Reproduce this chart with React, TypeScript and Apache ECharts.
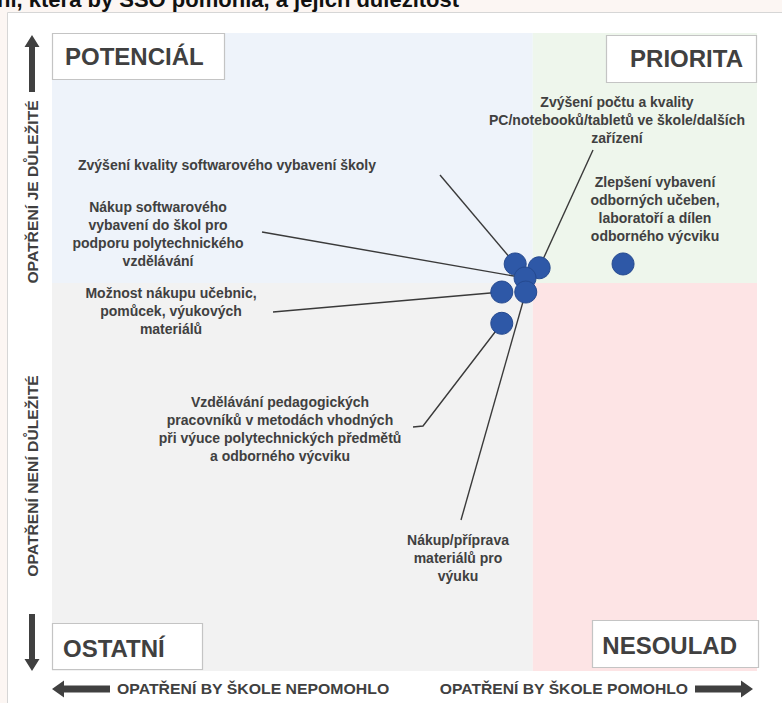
import React, { useEffect, useRef } from "react";
import * as echarts from "echarts";

// ---------- data ----------
const titleText = "ní, která by ŠŠO pomohla, a jejich důležitost";

const measures = [
  "Zvýšení počtu a kvality PC/notebooků/tabletů ve škole/dalších zařízení",
  "Zlepšení vybavení odborných učeben, laboratoří a dílen odborného výcviku",
  "Zvýšení kvality softwarového vybavení školy",
  "Nákup softwarového vybavení do škol pro podporu polytechnického vzdělávání",
  "Možnost nákupu učebnic, pomůcek, výukových materiálů",
  "Vzdělávání pedagogických pracovníků v metodách vhodných při výuce polytechnických předmětů a odborného výcviku",
  "Nákup/příprava materiálů pro výuku",
];

const measureLines = [
  ["Zvýšení počtu a kvality", "PC/notebooků/tabletů ve škole/dalších", "zařízení"],
  ["Zlepšení vybavení", "odborných učeben,", "laboratoří a dílen", "odborného výcviku"],
  ["Zvýšení kvality softwarového vybavení školy"],
  ["Nákup softwarového", "vybavení do škol pro", "podporu polytechnického", "vzdělávání"],
  ["Možnost nákupu učebnic,", "pomůcek, výukových", "materiálů"],
  ["Vzdělávání pedagogických", "pracovníků v metodách vhodných", "při výuce polytechnických předmětů", "a odborného výcviku"],
  ["Nákup/příprava", "materiálů pro", "výuku"],
];

// x: how much the measure would help the school, y: importance
const helpfulness = [69.1, 81.0, 65.7, 67.1, 63.8, 63.8, 67.2];
const importance = [63.2, 63.8, 63.8, 61.6, 59.4, 54.5, 59.4];

const X_MIN = 0;
const X_MAX = 100;
const Y_MIN = 0;
const Y_MAX = 100;
const X_SPLIT = 68.2;
const Y_SPLIT = 60.8;

const quadrantNames = ["POTENCIÁL", "PRIORITA", "OSTATNÍ", "NESOULAD"];
const yAxisLabels = ["OPATŘENÍ JE DŮLEŽITÉ", "OPATŘENÍ NENÍ DŮLEŽITÉ"];
const xAxisLabels = ["OPATŘENÍ BY ŠKOLE NEPOMOHLO", "OPATŘENÍ BY ŠKOLE POMOHLO"];

// ---------- layout (pixels) ----------
const labelLayout = [
  { x: 617, y0: 102, align: "center", leader: [[593, 150]] },
  { x: 655, y0: 182, align: "center", leader: null },
  { x: 78, y0: 165, align: "left", leader: [[440, 175]] },
  { x: 158, y0: 207, align: "center", leader: [[262, 232]] },
  { x: 171, y0: 293, align: "center", leader: [[273, 312]] },
  { x: 280, y0: 402, align: "center", leader: [[413, 427], [423, 426]] },
  { x: 458, y0: 540, align: "center", leader: [[461, 520]] },
];

const quadrantBoxes = [
  { x: 52, y: 33, w: 172, h: 46, tx: 65, ty: 56, align: "left" },
  { x: 606, y: 35, w: 150, h: 47, tx: 743, ty: 58, align: "right" },
  { x: 52, y: 623, w: 150, h: 46, tx: 63, ty: 648, align: "left" },
  { x: 592, y: 620, w: 166, h: 47, tx: 737, ty: 645, align: "right" },
];

const FONT = "Liberation Sans, Arial, Helvetica, sans-serif";
const DARK = "#404040";
const LINE_H = 18;

function buildGraphics(chart: any) {
  const els: any[] = [];
  // panel
  els.push({
    type: "rect",
    z: 0,
    shape: { x: 7.5, y: 12.5, width: 800, height: 720 },
    style: { fill: "#ffffff", stroke: "#d6d6d6", lineWidth: 1 },
  });
  // title (cropped at the top, as in the source image)
  els.push({
    type: "text",
    z: 5,
    x: -3,
    y: -1,
    style: {
      text: titleText,
      fill: "#111111",
      font: `bold 22px ${FONT}`,
      textAlign: "left",
      textVerticalAlign: "middle",
    },
  });

  // leader lines
  measureLines.forEach((_, i) => {
    const lay = labelLayout[i];
    if (!lay.leader) return;
    const p = chart.convertToPixel({ gridIndex: 0 }, [helpfulness[i], importance[i]]);
    const pts = [...lay.leader, [p[0], p[1]]];
    els.push({
      type: "polyline",
      z: 5,
      shape: { points: pts },
      style: { stroke: "#3a3a3a", lineWidth: 1.4, fill: null },
    });
  });

  // annotation texts
  measureLines.forEach((lines, i) => {
    const lay = labelLayout[i];
    els.push({
      type: "text",
      z: 6,
      x: lay.x,
      y: lay.y0 - LINE_H / 2,
      style: {
        text: lines.join("\n"),
        fill: DARK,
        font: `bold 14px ${FONT}`,
        lineHeight: LINE_H,
        textAlign: lay.align,
        textVerticalAlign: "top",
      },
    });
  });

  // quadrant boxes
  quadrantBoxes.forEach((b, i) => {
    els.push({
      type: "rect",
      z: 6,
      shape: { x: b.x + 0.5, y: b.y + 0.5, width: b.w, height: b.h },
      style: { fill: "#ffffff", stroke: "#c4c4c4", lineWidth: 1.2 },
    });
    els.push({
      type: "text",
      z: 7,
      x: b.tx,
      y: b.ty,
      style: {
        text: quadrantNames[i],
        fill: DARK,
        font: `bold 24px ${FONT}`,
        textAlign: b.align,
        textVerticalAlign: "middle",
      },
    });
  });

  // vertical axis captions
  [192, 476].forEach((cy, i) => {
    els.push({
      type: "text",
      z: 6,
      x: 33,
      y: cy,
      rotation: Math.PI / 2,
      scaleX: 1.12,
      style: {
        text: yAxisLabels[i],
        fill: DARK,
        font: `bold 14px ${FONT}`,
        textAlign: "center",
        textVerticalAlign: "middle",
      },
    });
  });

  // horizontal axis captions
  els.push({
    type: "text",
    z: 6,
    x: 117,
    y: 689,
    scaleX: 1.13,
    style: {
      text: xAxisLabels[0],
      fill: DARK,
      font: `bold 14px ${FONT}`,
      textAlign: "left",
      textVerticalAlign: "middle",
    },
  });
  els.push({
    type: "text",
    z: 6,
    x: 688,
    y: 689,
    scaleX: 1.12,
    style: {
      text: xAxisLabels[1],
      fill: DARK,
      font: `bold 14px ${FONT}`,
      textAlign: "right",
      textVerticalAlign: "middle",
    },
  });

  // arrows
  const arrows = [
    [[32, 35], [39.5, 47], [35, 47], [35, 92], [29, 92], [29, 47], [24.5, 47]],
    [[32, 671], [39.5, 659], [35, 659], [35, 614], [29, 614], [29, 659], [24.5, 659]],
    [[52, 689], [64, 680.5], [64, 685.5], [110, 685.5], [110, 692.5], [64, 692.5], [64, 697.5]],
    [[753, 689], [741, 680.5], [741, 685.5], [695, 685.5], [695, 692.5], [741, 692.5], [741, 697.5]],
  ];
  arrows.forEach((pts) => {
    els.push({
      type: "polygon",
      z: 6,
      shape: { points: pts },
      style: { fill: "#404040" },
    });
  });
  return els;
}

export default function App() {
  const ref = useRef<HTMLDivElement>(null);
  useEffect(() => {
    const chart = echarts.init(ref.current!, undefined, {
      renderer: "svg",
      width: 782,
      height: 703,
    });
    const option: any = {
      animation: false,
      backgroundColor: "#fcf6f3",
      grid: { left: 52, right: 25, top: 33, bottom: 32 },
      xAxis: {
        type: "value",
        min: X_MIN,
        max: X_MAX,
        show: false,
        splitLine: { show: false },
      },
      yAxis: {
        type: "value",
        min: Y_MIN,
        max: Y_MAX,
        show: false,
        splitLine: { show: false },
      },
      series: [
        {
          type: "scatter",
          z: 1,
          data: [],
          silent: true,
          markArea: {
            silent: true,
            data: [
              [
                { coord: [X_MIN, Y_SPLIT], itemStyle: { color: "#eef3fa" } },
                { coord: [X_SPLIT, Y_MAX] },
              ],
              [
                { coord: [X_SPLIT, Y_SPLIT], itemStyle: { color: "#eef6ec" } },
                { coord: [X_MAX, Y_MAX] },
              ],
              [
                { coord: [X_MIN, Y_MIN], itemStyle: { color: "#f2f2f2" } },
                { coord: [X_SPLIT, Y_SPLIT] },
              ],
              [
                { coord: [X_SPLIT, Y_MIN], itemStyle: { color: "#fde4e5" } },
                { coord: [X_MAX, Y_SPLIT] },
              ],
            ],
          },
        },
        {
          type: "scatter",
          name: "Opatření",
          z: 10,
          symbolSize: 22,
          itemStyle: { color: "#2e58a7", borderColor: "#25498f", borderWidth: 1, opacity: 1 },
          data: helpfulness.map((x, i) => ({ name: measures[i], value: [x, importance[i]] })),
        },
      ],
    };
    chart.setOption(option);
    chart.setOption({ graphic: { elements: buildGraphics(chart) } });
    return () => chart.dispose();
  }, []);
  return (
    <div
      ref={ref}
      style={{ position: "fixed", left: 0, top: 0, width: 782, height: 703 }}
    />
  );
}
